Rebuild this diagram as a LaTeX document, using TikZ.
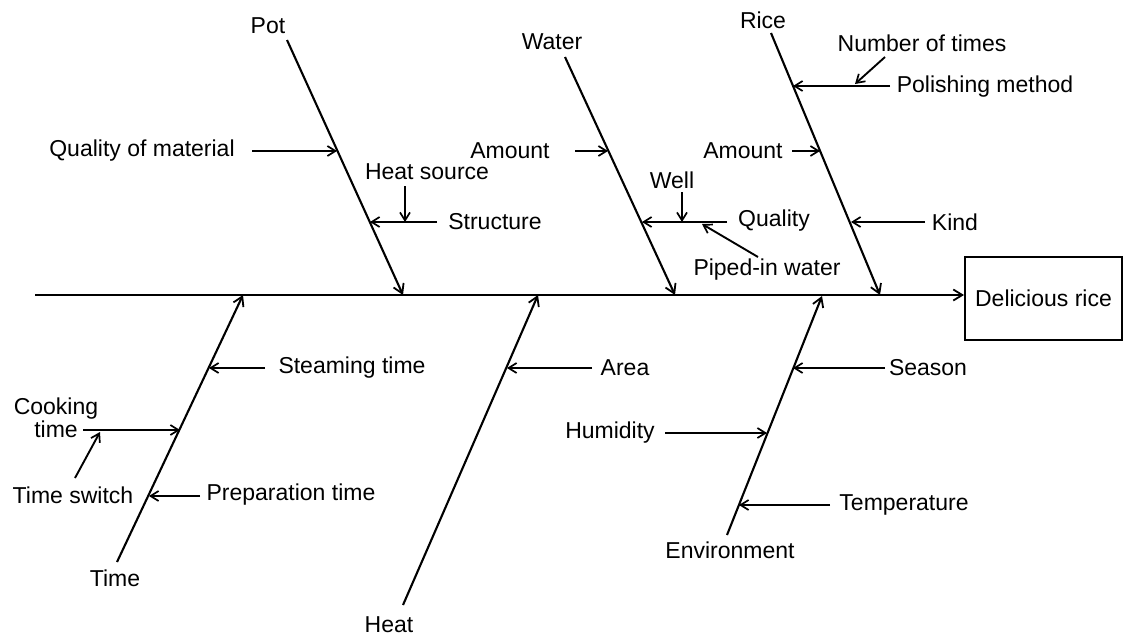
\documentclass[tikz,border=0pt]{standalone}
\usepackage{fontspec}
\setmainfont{Liberation Sans}
\usetikzlibrary{arrows.meta}
\begin{document}
\begin{tikzpicture}[x=1pt,y=-1pt,
  lbl/.style={inner sep=0pt,font=\fontsize{23}{26}\selectfont},
  bone/.style={line width=2.1pt,-{Straight Barb[length=9pt,width=11pt,line width=1.8pt]}},
  sub/.style={line width=1.9pt,-{Straight Barb[length=8pt,width=10pt,line width=1.7pt]}},
  effect/.style={draw,line width=2pt,minimum width=157pt,minimum height=83pt,inner sep=0pt,font=\fontsize{23}{26}\selectfont}]
\useasboundingbox (0,0) rectangle (1134,637);
\fill[white] (0,0) rectangle (1134,637);

% effect box and spine
\node[effect] (eff) at (1043.5,298.5) {Delicious rice};
\coordinate (tail) at (35,295);
\draw[bone] (tail) -- (tail -| eff.west);

% ---------- Pot ----------
\node[lbl] (pot) at (268,26) {Pot};
\coordinate (potA) at (287,40);
\coordinate (potB) at (403,295);
\draw[bone] (potA) -- (potB);
\node[lbl] (qm) at (142,151) {Quality of material};
\coordinate (qmS) at (252,151);
\coordinate (qmT) at (337,151);
\draw[sub] (qmS) -- (qmT);
\node[lbl] (hs) at (427,172) {Heat source};
\coordinate (hsS) at (405,186);
\coordinate (hsT) at (405,222);
\draw[sub] (hsS) -- (hsT);
\node[lbl] (st) at (495,222) {Structure};
\coordinate (stS) at (437,222);
\coordinate (stT) at (370,222);
\draw[sub] (stS) -- (stT);

% ---------- Water ----------
\node[lbl] (wat) at (552,42) {Water};
\coordinate (watA) at (565,57);
\coordinate (watB) at (675,295);
\draw[bone] (watA) -- (watB);
\node[lbl] (am1) at (510,151) {Amount};
\coordinate (am1S) at (575,151);
\coordinate (am1T) at (608,151);
\draw[sub] (am1S) -- (am1T);
\node[lbl] (well) at (672,180) {Well};
\coordinate (wellS) at (682,192);
\coordinate (wellT) at (682,222);
\draw[sub] (wellS) -- (wellT);
\node[lbl] (qual) at (774,221) {Quality};
\coordinate (qualS) at (727,222);
\coordinate (qualT) at (642,222);
\draw[sub] (qualS) -- (qualT);
\node[lbl] (pip) at (767,270) {Piped-in water};
\coordinate (pipS) at (758,257);
\coordinate (pipT) at (702,224);
\draw[sub] (pipS) -- (pipT);

% ---------- Rice ----------
\node[lbl] (rice) at (763,20) {Rice};
\coordinate (riceA) at (771,33);
\coordinate (riceB) at (880,295);
\draw[bone] (riceA) -- (riceB);
\node[lbl] (nt) at (922,43) {Number of times};
\coordinate (ntS) at (885,57);
\coordinate (ntT) at (855,84);
\draw[sub] (ntS) -- (ntT);
\node[lbl] (pm) at (985,87) {Polishing method};
\coordinate (pmS) at (890,86);
\coordinate (pmT) at (793,86);
\draw[sub] (pmS) -- (pmT);
\node[lbl] (am2) at (743,151) {Amount};
\coordinate (am2S) at (792,151);
\coordinate (am2T) at (820,151);
\draw[sub] (am2S) -- (am2T);
\node[lbl] (kind) at (955,222) {Kind};
\coordinate (kindS) at (925,222);
\coordinate (kindT) at (851,222);
\draw[sub] (kindS) -- (kindT);

% ---------- Time ----------
\node[lbl] (time) at (115,578) {Time};
\coordinate (timeA) at (117,562);
\coordinate (timeB) at (243,295);
\draw[bone] (timeA) -- (timeB);
\node[lbl] (stm) at (352,368) {Steaming time};
\coordinate (stmS) at (265,368);
\coordinate (stmT) at (209,368);
\draw[sub] (stmS) -- (stmT);
\node[lbl,align=center] (ck) at (56,418) {Cooking\\[-3pt]time};
\coordinate (ckS) at (83,430);
\coordinate (ckT) at (180,430);
\draw[sub] (ckS) -- (ckT);
\node[lbl] (ts) at (73,495) {Time switch};
\coordinate (tsS) at (75,478);
\coordinate (tsT) at (100,432);
\draw[sub] (tsS) -- (tsT);
\node[lbl] (prep) at (291,495) {Preparation time};
\coordinate (prepS) at (200,496);
\coordinate (prepT) at (149,496);
\draw[sub] (prepS) -- (prepT);

% ---------- Heat ----------
\node[lbl] (heat) at (389,625) {Heat};
\coordinate (heatA) at (403,605);
\coordinate (heatB) at (538,295);
\draw[bone] (heatA) -- (heatB);
\node[lbl] (area) at (625,368) {Area};
\coordinate (areaS) at (592,368);
\coordinate (areaT) at (507,368);
\draw[sub] (areaS) -- (areaT);

% ---------- Environment ----------
\node[lbl] (env) at (730,550) {Environment};
\coordinate (envA) at (727,535);
\coordinate (envB) at (822,296);
\draw[bone] (envA) -- (envB);
\node[lbl] (sea) at (928,368) {Season};
\coordinate (seaS) at (885,368);
\coordinate (seaT) at (793,368);
\draw[sub] (seaS) -- (seaT);
\node[lbl] (hum) at (610,433) {Humidity};
\coordinate (humS) at (665,433);
\coordinate (humT) at (767,433);
\draw[sub] (humS) -- (humT);
\node[lbl] (temp) at (904,505) {Temperature};
\coordinate (tempS) at (830,505);
\coordinate (tempT) at (739,505);
\draw[sub] (tempS) -- (tempT);
\end{tikzpicture}
\end{document}
